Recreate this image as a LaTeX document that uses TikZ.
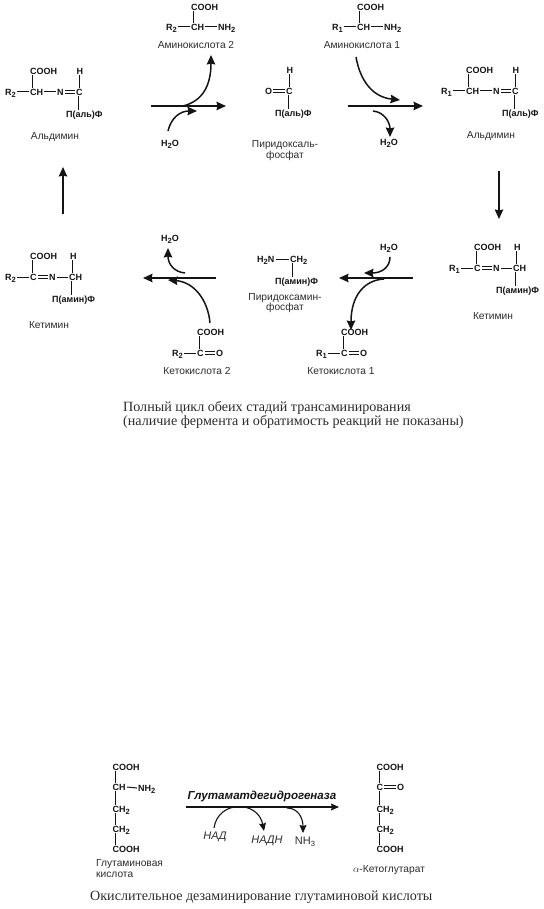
\documentclass[tikz,border=0pt]{standalone}
\usepackage{fontspec}
\setmainfont{Liberation Sans}
\newfontfamily\capfont{Liberation Serif}
\usetikzlibrary{arrows.meta}
\definecolor{ink}{gray}{0.08}
\tikzset{
  atom/.style={anchor=west,inner sep=1pt,text height=6.5pt,text depth=0pt,font=\fontsize{9}{9}\selectfont\bfseries,text=ink},
  lbl/.style={inner sep=0pt,align=center,font=\fontsize{10.2}{10.4}\selectfont,text=ink!90},
  capt/.style={inner sep=0pt,anchor=west,font=\fontsize{14.1}{14}\capfont,text=ink!90},
  bond/.style={draw=ink,line width=1pt},
  rxn/.style={draw=ink,line width=1.5pt,-{Stealth[length=9.5pt,width=8.5pt,inset=1pt]}},
  rxnthin/.style={draw=ink,line width=1.1pt,-{Stealth[length=8pt,width=7pt,inset=1pt]}},
}
\newcommand{\sbs}[1]{\raisebox{-2pt}{\fontsize{7.5}{7.5}\selectfont #1}}
% vertical bond from the first letter of the upper node to the lower node
\newcommand{\vb}[2]{\path ([xshift=3.5pt]#1.south west) coordinate (vbtmp);\draw[bond] (vbtmp) -- (vbtmp |- #2.north);}
\newcommand{\hb}[2]{\draw[bond] (#1.east) -- (#2.west);}
\newcommand{\db}[2]{\draw[bond,line width=.8pt] ([yshift=1.3pt]#1.east) -- ([yshift=1.3pt]#2.west);\draw[bond,line width=.8pt] ([yshift=-1.3pt]#1.east) -- ([yshift=-1.3pt]#2.west);}
% aldimine: #1 prefix, #2 dx, #3 dy, #4 substituent number
\newcommand{\aldimine}[4]{
  \node[atom] (#1r) at (#2+4,#3+92) {R\sbs{#4}};
  \node[atom] (#1ch) at (#2+29,#3+92) {CH};
  \node[atom] (#1n) at (#2+56,#3+92) {N};
  \node[atom] (#1c) at (#2+75,#3+92) {C};
  \node[atom] (#1cooh) at (#2+29,#3+71) {COOH};
  \node[atom] (#1h) at (#2+75.5,#3+71) {H};
  \node[atom] (#1pf) at (#2+65,#3+114) {П(аль)Ф};
  \hb{#1r}{#1ch}\hb{#1ch}{#1n}\db{#1n}{#1c}
  \vb{#1cooh}{#1ch}\vb{#1h}{#1c}\vb{#1c}{#1pf}
  \node[lbl] (#1lab) at (#2+55,#3+137) {Альдимин};
}
% ketimine
\newcommand{\ketimine}[4]{
  \node[atom] (#1r) at (#2+4,#3+277) {R\sbs{#4}};
  \node[atom] (#1c) at (#2+29,#3+277) {C};
  \node[atom] (#1n) at (#2+48,#3+277) {N};
  \node[atom] (#1ch) at (#2+68,#3+277) {CH};
  \node[atom] (#1cooh) at (#2+29,#3+256) {COOH};
  \node[atom] (#1h) at (#2+69,#3+256) {H};
  \node[atom] (#1pf) at (#2+51,#3+299) {П(амин)Ф};
  \db{#1c}{#1n}\hb{#1r}{#1c}\hb{#1n}{#1ch}
  \vb{#1cooh}{#1c}\vb{#1h}{#1ch}\vb{#1ch}{#1pf}
  \node[lbl] (#1lab) at (#2+49,#3+325) {Кетимин};
}
% amino acid
\newcommand{\aminoacid}[4]{
  \node[atom] (#1r) at (#2+165,27) {R\sbs{#3}};
  \node[atom] (#1ch) at (#2+190,27) {CH};
  \node[atom] (#1nh) at (#2+217,27) {NH\sbs{2}};
  \node[atom] (#1cooh) at (#2+190,7) {COOH};
  \hb{#1r}{#1ch}\hb{#1ch}{#1nh}\vb{#1cooh}{#1ch}
  \node[lbl] (#1lab) at (#2+196,45) {#4};
}
% keto acid
\newcommand{\ketoacid}[4]{
  \node[atom] (#1r) at (#2+171,353) {R\sbs{#3}};
  \node[atom] (#1c) at (#2+196,353) {C};
  \node[atom] (#1o) at (#2+215,353) {O};
  \node[atom] (#1cooh) at (#2+196,332) {COOH};
  \hb{#1r}{#1c}\db{#1c}{#1o}\vb{#1cooh}{#1c}
  \node[lbl] (#1lab) at (#2+197,371) {#4};
}
\begin{document}
\begin{tikzpicture}[x=1pt,y=-1pt]
\useasboundingbox (0,0) rectangle (543,909);
\aldimine{al}{0}{0}{2}
\aldimine{ar}{436}{-1}{1}
\ketimine{kl}{0}{0}{2}
\ketimine{kr}{444}{-9}{1}
\aminoacid{aa}{0}{2}{Аминокислота 2}
\aminoacid{ab}{166}{1}{Аминокислота 1}
\ketoacid{ka}{0}{2}{Кетокислота 2}
\ketoacid{kb}{144}{1}{Кетокислота 1}
% pyridoxal phosphate
\node[atom] (plo) at (264,91) {O};
\node[atom] (plc) at (285,91) {C};
\node[atom] (plh) at (285.5,70) {H};
\node[atom] (plpf) at (274,113) {П(аль)Ф};
\db{plo}{plc}\vb{plh}{plc}\vb{plc}{plpf}
\node[lbl] (pllab) at (285,150.5) {Пиридоксаль-\\фосфат};
% pyridoxamine phosphate
\node[atom] (pmn) at (256,259) {H\sbs{2}N};
\node[atom] (pmc) at (289,259) {CH\sbs{2}};
\node[atom] (pmpf) at (274,281) {П(амин)Ф};
\hb{pmn}{pmc}\vb{pmc}{pmpf}
\node[lbl] (pmlab) at (285,303) {Пиридоксамин-\\фосфат};
% water labels
\node[atom,anchor=center] (w1) at (170,143) {H\sbs{2}O};
\node[atom,anchor=center] (w2) at (389,142) {H\sbs{2}O};
\node[atom,anchor=center] (w3) at (389,247) {H\sbs{2}O};
\node[atom,anchor=center] (w4) at (170,238) {H\sbs{2}O};
% main arrows
\coordinate (m1a) at (151,106); \coordinate (m1b) at (226,106);
\coordinate (m2a) at (348,106); \coordinate (m2b) at (423,106);
\coordinate (m3a) at (413,278); \coordinate (m3b) at (339,278);
\coordinate (m4a) at (216,278); \coordinate (m4b) at (143,278);
\coordinate (vra) at (499,171); \coordinate (vrb) at (499,219);
\coordinate (vla) at (63,214);  \coordinate (vlb) at (63,167);
\draw[rxn] (m1a) -- (m1b);
\draw[rxn] (m2a) -- (m2b);
\draw[rxn] (m3a) -- (m3b);
\draw[rxn] (m4a) -- (m4b);
\draw[rxn] (vra) -- (vrb);
\draw[rxn] (vla) -- (vlb);
% curved arrows
\coordinate (c1a) at (183,106); \coordinate (c1b) at (211,55);
\draw[rxn] (c1a) .. controls (203,101) and (211,85) .. (c1b);
\coordinate (c2a) at (168,131); \coordinate (c2b) at (197,111);
\draw[rxn] (c2a) .. controls (171,118) and (180,111) .. (c2b);
\coordinate (c3a) at (356,57); \coordinate (c3b) at (400,100);
\draw[rxn] (c3a) .. controls (360,80) and (372,97) .. (c3b);
\coordinate (c4a) at (373,111); \coordinate (c4b) at (390,137);
\draw[rxn] (c4a) .. controls (384,112) and (390,122) .. (c4b);
\coordinate (c5a) at (390,257); \coordinate (c5b) at (364,273);
\draw[rxn] (c5a) .. controls (390,267) and (382,273) .. (c5b);
\coordinate (c6a) at (384,279); \coordinate (c6b) at (351,330);
\draw[rxn] (c6a) .. controls (365,280) and (351,295) .. (c6b);
\coordinate (c7a) at (185,273); \coordinate (c7b) at (168,248);
\draw[rxn] (c7a) .. controls (174,272) and (168,264) .. (c7b);
\coordinate (c8a) at (210,323); \coordinate (c8b) at (168,280);
\draw[rxn] (c8a) .. controls (208,300) and (194,282) .. (c8b);
% captions
\node[capt] (cap1) at (123,408) {Полный цикл обеих стадий трансаминирования};
\node[capt] (cap2) at (123,422) {(наличие фермента и обратимость реакций не показаны)};
% glutamic acid
\node[atom] (gc1) at (111.5,767) {COOH};
\node[atom] (gc2) at (111.5,787) {CH};
\node[atom] (gn) at (137,788) {NH\sbs{2}};
\node[atom] (gc3) at (111.5,809) {CH\sbs{2}};
\node[atom] (gc4) at (111.5,829) {CH\sbs{2}};
\node[atom] (gc5) at (111.5,849) {COOH};
\vb{gc1}{gc2}\vb{gc2}{gc3}\vb{gc3}{gc4}\vb{gc4}{gc5}
\hb{gc2}{gn}
\node[lbl,anchor=west] (glab) at (96,870) {\begin{tabular}{@{}l@{}}Глутаминовая\\кислота\end{tabular}};
% ketoglutarate
\node[atom] (kc1) at (375.5,767) {COOH};
\node[atom] (kc2) at (375.5,787) {C};
\node[atom] (ko) at (396,787) {O};
\node[atom] (kc3) at (375.5,809) {CH\sbs{2}};
\node[atom] (kc4) at (375.5,829) {CH\sbs{2}};
\node[atom] (kc5) at (375.5,849) {COOH};
\vb{kc1}{kc2}\vb{kc2}{kc3}\vb{kc3}{kc4}\vb{kc4}{kc5}
\db{kc2}{ko}
\node[lbl] (klab) at (389,870) {$\alpha$-Кетоглутарат};
% enzyme
\coordinate (ga) at (186,807); \coordinate (gb) at (339,807);
\draw[rxnthin] (ga) -- (gb);
\node[inner sep=0pt,text=ink,font=\fontsize{11.6}{12}\selectfont\bfseries\itshape] (enz) at (262,796) {Глутаматдегидрогеназа};
\node[lbl,font=\fontsize{11}{11}\selectfont\itshape] (nad) at (215,837) {НАД};
\node[lbl,font=\fontsize{11}{11}\selectfont\itshape] (nadh) at (267,841) {НАДН};
\node[lbl,font=\fontsize{11}{11}\selectfont] (nh) at (305,842) {NH\sbs{3}};
\coordinate (g1a) at (214,828); \coordinate (g1b) at (264,831);
\draw[rxnthin] (g1a) .. controls (218,800) and (258,800) .. (g1b);
\coordinate (g2a) at (287,808); \coordinate (g2b) at (303,833);
\draw[rxnthin] (g2a) .. controls (298,808) and (303,818) .. (g2b);
\node[capt] (cap3) at (90,897) {Окислительное дезаминирование глутаминовой кислоты};
\end{tikzpicture}
\end{document}
